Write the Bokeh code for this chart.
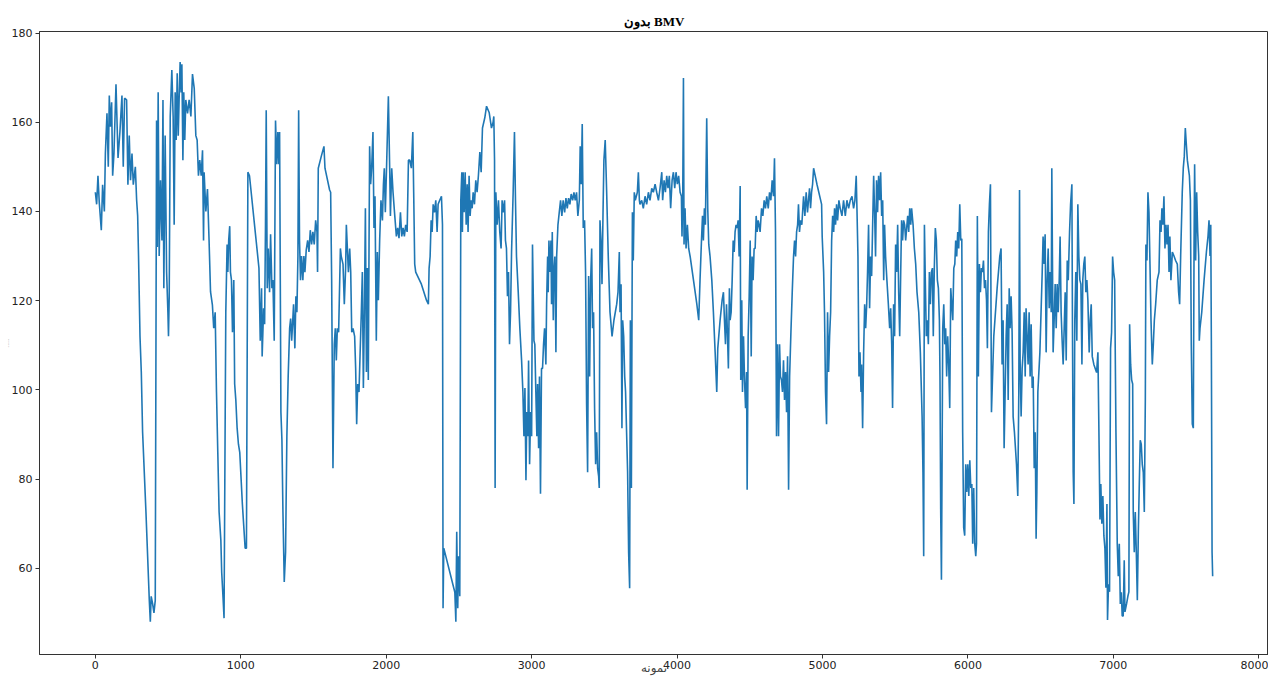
from bokeh.plotting import figure
from bokeh.models import Range1d, FixedTicker
from bokeh.embed import file_html
from bokeh.resources import INLINE

# ---- data ----
sample_idx = [
    0, 9, 18, 27, 41, 50, 62, 69, 80, 89, 96, 103, 112, 119, 128, 142, 156, 169, 183, 192,
    201, 215, 224, 233, 242, 252, 261, 275, 284, 291, 297, 307, 316, 325, 348, 371, 378, 384, 394, 403,
    412, 421, 426, 432, 439, 448, 458, 465, 471, 480, 490, 499, 503, 508, 515, 526, 535, 542, 549, 556,
    563, 570, 576, 583, 590, 595, 602, 608, 615, 622, 634, 645, 657, 668, 680, 691, 700, 709, 718, 728,
    737, 744, 748, 760, 771, 782, 792, 805, 814, 824, 833, 842, 851, 863, 869, 879, 885, 897, 906, 911,
    917, 924, 929, 936, 943, 952, 958, 966, 975, 984, 993, 1011, 1030, 1039,
    1049, 1060, 1125, 1134, 1143, 1147, 1157, 1164, 1170, 1175, 1182, 1189, 1198, 1205, 1214, 1221, 1230, 1239, 1248, 1255,
    1262, 1267, 1276, 1283, 1290, 1299, 1308, 1317, 1326, 1331, 1336, 1343, 1350, 1356, 1363, 1372, 1379, 1386, 1393, 1398,
    1404, 1411, 1418, 1427, 1434, 1441, 1450, 1460, 1469, 1478, 1487, 1496, 1505, 1515, 1524, 1528, 1533, 1554, 1572, 1579,
    1611, 1618, 1625, 1634, 1643, 1650, 1657, 1664, 1673, 1685, 1691, 1703, 1712, 1721, 1726, 1733, 1740, 1749, 1756, 1763,
    1772, 1783, 1790, 1797, 1804, 1813, 1820, 1829, 1836, 1843, 1850, 1857, 1864, 1870, 1877, 1882, 1886, 1893, 1900, 1909,
    1916, 1923, 1932, 1939, 1946, 1955, 1964, 1974, 1981, 1987, 1994, 2003, 2015, 2024, 2029, 2038, 2047, 2059, 2070, 2079,
    2088, 2098, 2107, 2116, 2125, 2134, 2144, 2153, 2162, 2173, 2183, 2189, 2196, 2203, 2242, 2277, 2290, 2295, 2302, 2309,
    2316, 2323, 2332, 2341, 2350, 2357,
    2368, 2380, 2387, 2391, 2396, 2472, 2479, 2485, 2492, 2497, 2506, 2513, 2520, 2524, 2529, 2536, 2543, 2550, 2557, 2563,
    2570, 2577, 2584, 2591, 2598, 2607, 2616, 2625, 2634, 2644, 2653, 2662, 2678, 2690, 2708, 2724, 2735, 2740, 2745, 2749,
    2754, 2763, 2772, 2781, 2790, 2797, 2804, 2814, 2820, 2827, 2834, 2841, 2848, 2855, 2862, 2873, 2882, 2889, 2896, 2908,
    2919, 2931, 2940, 2947, 2954, 2961, 2967, 2974, 2979, 2986, 2993, 3000, 3006, 3016, 3022, 3029, 3036, 3041, 3048, 3054,
    3061, 3068, 3075, 3082, 3089, 3098, 3103, 3110, 3114, 3119, 3126, 3133, 3137, 3142, 3149, 3153, 3160, 3167, 3172, 3181,
    3190, 3199, 3208, 3217, 3227, 3236, 3245, 3254, 3263, 3272, 3282, 3291, 3300, 3309, 3318, 3328, 3334, 3341, 3348, 3355,
    3364, 3371, 3378, 3385, 3392, 3399, 3406, 3413, 3419, 3426, 3433, 3440, 3447, 3454, 3461, 3465, 3470, 3477, 3484, 3491,
    3497, 3506, 3516, 3527, 3539, 3553, 3566, 3585, 3594, 3603, 3608, 3615, 3621, 3626, 3633, 3640, 3646, 3653, 3660, 3667,
    3674, 3679, 3686, 3693, 3699, 3706, 3713, 3720, 3727, 3734, 3741,
    3745, 3757, 3768, 3780, 3791, 3803, 3814, 3826, 3837, 3849, 3860, 3872, 3883, 3895, 3901, 3911, 3920, 3929, 3938, 3947,
    3956, 3966, 3975, 3984, 3993, 4002, 4011, 4021, 4030, 4034, 4039, 4044, 4048, 4055, 4062, 4071, 4080, 4090, 4113, 4136,
    4149, 4158, 4168, 4175, 4181, 4188, 4195, 4204, 4211, 4218, 4227, 4239, 4250, 4262, 4273, 4280, 4296, 4310, 4319, 4326,
    4333, 4340, 4347, 4353, 4360, 4365, 4372, 4379, 4386, 4393, 4399, 4406, 4413, 4420, 4427, 4434, 4438, 4445, 4450, 4457,
    4464, 4471, 4478, 4482, 4489, 4496, 4503, 4510, 4516, 4523, 4530, 4537, 4544, 4551, 4558, 4564, 4571, 4581, 4590, 4599,
    4608, 4617, 4627, 4636, 4645, 4654, 4663, 4670, 4677, 4684, 4691, 4698, 4705, 4711, 4718, 4725, 4732, 4739, 4746, 4753,
    4760, 4767, 4774, 4783, 4792, 4801, 4808, 4815, 4822, 4829, 4835, 4842, 4849, 4858, 4870, 4879, 4888, 4897, 4904, 4911,
    4918, 4925, 4932, 4939, 4962, 4994, 4998, 5008, 5014, 5021, 5028, 5035, 5042, 5049, 5056, 5063, 5070, 5077, 5083, 5090,
    5097, 5104, 5113,
    5122, 5134, 5145, 5157, 5168, 5180, 5191, 5203, 5214, 5223, 5232, 5237, 5244, 5251, 5258, 5265, 5269, 5276, 5283, 5290,
    5297, 5304, 5310, 5317, 5324, 5331, 5338, 5345, 5352, 5359, 5365, 5372, 5379, 5386, 5393, 5400, 5407, 5414, 5421, 5427,
    5434, 5443, 5453, 5462, 5469, 5476, 5482, 5489, 5496, 5503, 5510, 5517, 5524, 5531, 5538, 5544, 5551, 5558, 5565, 5572,
    5579, 5586, 5593, 5600, 5607, 5613, 5623, 5632, 5641, 5650, 5662, 5673, 5685, 5691, 5696, 5701, 5707, 5714, 5721, 5728,
    5735, 5742, 5749, 5756, 5762, 5769, 5776, 5783, 5790, 5797, 5804, 5808, 5813, 5818, 5822, 5827, 5834, 5841, 5847, 5854,
    5861, 5868, 5875, 5882, 5889, 5896, 5903, 5910, 5916, 5923, 5930, 5937, 5944, 5951, 5958, 5964, 5971, 5978, 5985, 5992,
    5999, 6006, 6013, 6020, 6027, 6033, 6040, 6047, 6054, 6059, 6065, 6072, 6079, 6086, 6093, 6100, 6107, 6114, 6121, 6128,
    6134, 6141, 6148, 6155, 6162, 6178, 6201, 6219, 6228, 6235, 6242, 6249, 6256, 6263, 6270, 6277, 6284, 6290, 6297, 6304,
    6311, 6320, 6334, 6343, 6350, 6355, 6359, 6366, 6373, 6380, 6387, 6394, 6400, 6407, 6414, 6421, 6428, 6435, 6442, 6449,
    6456, 6463, 6469, 6474, 6481, 6495,
    6499, 6511, 6517, 6524, 6531, 6538, 6545, 6552, 6559, 6566, 6573, 6577, 6582, 6586, 6593, 6600, 6607, 6614, 6621, 6628,
    6634, 6641, 6648, 6655, 6662, 6669, 6676, 6683, 6690, 6699, 6706, 6715, 6719, 6724, 6729, 6735, 6742, 6749, 6756, 6763,
    6770, 6777, 6784, 6790, 6797, 6804, 6811, 6818, 6825, 6834, 6841, 6848, 6855, 6866, 6885, 6894, 6901, 6908, 6914, 6921,
    6928, 6935, 6942, 6949, 6956, 6960, 6967, 6974, 6981, 6988, 6995, 7002, 7009, 7018, 7027, 7034, 7041, 7048, 7055, 7061,
    7068, 7075, 7080, 7091, 7100, 7107, 7112, 7119, 7126, 7133, 7137, 7144, 7151, 7158, 7165, 7172, 7178, 7185, 7192, 7199,
    7206, 7213, 7220, 7224, 7231, 7238, 7245, 7252, 7259, 7268, 7275, 7282, 7291, 7302, 7314, 7321, 7328, 7334, 7341, 7348,
    7355, 7362, 7369, 7376, 7383, 7389, 7396, 7406, 7417, 7428, 7440, 7449, 7456, 7463, 7474, 7481, 7488, 7495, 7502, 7509,
    7516, 7523, 7530, 7536, 7543, 7550, 7555, 7559, 7566, 7573, 7580, 7587, 7591, 7596, 7608, 7624, 7640, 7651, 7658, 7665,
    7670, 7674, 7679, 7683,
]

values = [
    144.3, 141.6, 148, 142, 135.8, 146, 140, 153, 162, 150, 166, 159, 164.5, 148, 153, 168.5, 152, 157.8, 166, 150,
    165.4, 165, 146, 157, 147, 153, 146, 150, 142.5, 139, 130, 112, 104, 90.5, 72.6, 52.8, 48, 53.7, 52, 50,
    52.8, 160.4, 132, 166.7, 130, 147, 133.5, 165, 122.8, 157, 126.4, 117.4, 112, 121, 161.3, 171.7, 161.3, 137, 166.7, 156,
    171, 157, 165, 173.5, 166.7, 173, 151.5, 166.7, 156, 165, 162, 165, 161.3, 170.8, 167.6, 157, 156, 148, 151.5, 148,
    153.7, 133.5, 148.8, 140, 145, 133.5, 122, 119, 113.8, 117.4, 99.5, 86, 72.6, 66.3, 59, 52.8, 48.8, 117.4, 132.6, 126.4,
    133.5, 136.7, 126.4, 124.6, 112.9, 124.6, 101.3, 97.7, 91.4, 87.8, 86, 74.4, 64.5, 64.5,
    148.8, 148, 127.3, 111, 122.8, 107.5, 118.3, 114.7, 137, 162.7, 122.8, 131.7, 121.9, 134.9, 122.8, 124.6, 111, 160.4, 150.6, 157.8,
    150.6, 157.8, 95, 88.7, 72.6, 56.9, 63.6, 89.6, 103, 108.4, 113.8, 116, 111, 114.7, 119.2, 109.3, 121, 117.4, 130, 162.7,
    133.5, 124.6, 130, 124.6, 130, 126.4, 131.3, 133.5, 130.9, 135.8, 132.6, 135.4, 132.6, 138, 135.4, 126.4, 149.7, 152.4, 154.6, 149.7,
    144.8, 144.3, 124.6, 82.4, 110.2, 113.8, 106.6, 113.8, 112.9, 131.7, 129.9, 128.2, 119.2, 127.3, 137, 131.7, 126.4, 131.7, 126.4, 112.9,
    113.8, 112, 104.8, 92.3, 101.3, 99.5, 107.5, 117.4, 126.4, 100.4, 117.4, 140.7, 104, 127.3, 102.2, 132.6, 154.6, 146.1, 149.7, 157.8,
    136.3, 143.4, 111, 130.9, 120.1, 133.5, 142.5, 138, 146.1, 149.7, 139.8, 150.6, 165.8, 149.7, 139, 149.7, 144.3, 139, 134.4, 136.3,
    134, 139.8, 134.4, 136.3, 134.4, 137, 135.4, 151.5, 151.5, 149.7, 157.8, 144.3, 128.2, 126.4, 123.7, 120.1, 119.2, 127.3, 129.9, 138,
    135.4, 141.6, 139.8, 142.5, 135.4, 141.6,
    142.5, 143.4, 137, 51, 64.5, 54.6, 48, 68.2, 51, 62.7, 53.7, 142.5, 148.8, 135.4, 148.8, 139.8, 148.8, 137, 146.1, 135.4,
    148, 139, 142.5, 140.7, 144.3, 141.6, 147, 144.3, 148, 153.3, 148.8, 158.7, 161, 163.6, 162.2, 158.7, 160, 161.3, 151.5, 78,
    144.3, 137, 142.5, 135.4, 131.7, 142.5, 139.8, 142.5, 133.5, 131.7, 121, 126.4, 110.2, 117.4, 130.9, 144.3, 157.8, 142.5, 129.9, 121.9,
    113.8, 106.6, 99.5, 89.6, 100.4, 79.7, 95, 89.6, 106.6, 83.3, 95, 89.6, 132.6, 111, 110.2, 99.5, 89.6, 101.3, 86.9, 103,
    76.7, 104.8, 104.8, 110.2, 113.8, 105.7, 119.2, 129.9, 121.9, 133.5, 126.4, 133.5, 119.2, 135.4, 115.6, 126.4, 129.9, 108.4, 129.9, 137,
    139.8, 142.5, 139, 142.5, 139.8, 143, 140.7, 143, 141.6, 143.9, 142.5, 144.3, 142.5, 144.3, 139, 142.5, 154.6, 146.1, 159.6, 136.3,
    138, 126.4, 96.8, 81.5, 125.5, 103, 124.6, 131.7, 113.8, 117.4, 95.9, 83.3, 90.5, 82.4, 80.6, 78, 138, 133.5, 123.7, 139.8,
    151.5, 156, 144.3, 129.9, 117.4, 112, 115.6, 119.2, 121.9, 130.9, 117.4, 123.7, 91.4, 115.6, 112, 103, 99.5, 90.5, 81.5, 63.6,
    55.5, 115.6, 78, 139.8, 129, 144.3, 142.5, 143.4, 144.3, 148.8, 142.5,
    141.6, 142.5, 140.7, 143.4, 141.6, 144.3, 142.5, 145.2, 144.3, 146.1, 144.3, 142.5, 145.2, 148.8, 142.5, 147, 144.3, 148, 145.2, 148,
    140.7, 147, 148.8, 145.2, 148.8, 146.1, 148, 144.3, 143.4, 134.4, 142.5, 169.9, 132.6, 140.7, 131.7, 137, 131.7, 129.9, 124.6, 119.2,
    115.6, 124.6, 133.5, 139, 133.5, 140.7, 137, 160.9, 140.7, 132.6, 129.9, 124.6, 117.4, 108.4, 99.5, 109.3, 115.6, 120.1, 121.9, 115.6,
    110.2, 119.2, 112, 104.8, 122.8, 115.6, 117.4, 124.6, 133.5, 130.9, 135.4, 137, 136.3, 138, 129.9, 145.7, 102.2, 120.1, 99.5, 112,
    102.2, 95.9, 104, 77.6, 112, 121, 133.5, 107.5, 129.9, 124.6, 131.7, 131.7, 139, 135.4, 138, 137, 135.4, 140.7, 139, 142.5,
    140.7, 143.4, 140.7, 144.3, 142.5, 147, 143.4, 151.9, 135.4, 89.6, 110.2, 89.6, 110.2, 103, 102.2, 99.5, 106.6, 97.7, 104, 95,
    107.5, 77.6, 103, 112.9, 121.9, 129.9, 133.5, 129.9, 135.4, 137, 141.6, 135.4, 138, 137, 143.4, 139, 144.3, 139.8, 142.5, 145.2,
    140.7, 144.3, 146.1, 149.7, 146.1, 141.6, 134.4, 126.4, 117.4, 99.5, 92.3, 117.4, 104, 112, 117.4, 133.5, 139, 135.4, 140.7, 137,
    141.6, 138, 142.5,
    140.7, 139, 142.5, 139, 142.5, 140.7, 142.5, 143.4, 140.7, 142.5, 148, 140.7, 129.9, 103, 108.4, 99.5, 105.7, 91.4, 108.4, 119.2,
    113.8, 119.2, 126.4, 137, 118.3, 129.9, 125.5, 137, 148, 139, 129.9, 147, 139.8, 148, 142.5, 148.8, 139, 142.5, 124.6, 137,
    129.9, 124.6, 119.2, 113.8, 118.3, 110.2, 95.9, 119.2, 112, 132.6, 126.4, 137, 121.9, 112, 126.4, 138, 133.5, 138, 137, 133.5,
    136.3, 139, 135.4, 140.7, 137, 140.7, 137, 131.7, 128.2, 121.9, 117.4, 108.4, 94, 81.5, 62.7, 137, 124.6, 112, 115.6, 110.2,
    126.4, 119.2, 126.4, 127.3, 112, 127.3, 136.3, 133.5, 124.6, 122.8, 115.6, 103, 72.6, 57.4, 81.5, 113.8, 119.2, 110.2, 113.8, 103,
    112, 105.7, 95.9, 122.8, 119.2, 115.6, 127.3, 128.2, 133.5, 129.9, 135.4, 131.7, 141.6, 133.5, 133.9, 90.5, 69.1, 67.3, 83.3, 77.1,
    83.3, 76.2, 84.2, 78, 78.9, 65.5, 78, 65.5, 62.7, 65.5, 139, 103, 128.2, 121.9, 127.3, 126.4, 129, 122.8, 124.6, 120.1,
    109.3, 135.4, 141.6, 146.1, 95, 112, 122.8, 129.9, 131.7, 105.7, 115.6, 86.9, 99.5, 112, 119.2, 97.7, 122.8, 113.8, 121, 112.9,
    94, 90.5, 83.3, 76.2, 99.5, 144.8, 106.6, 94, 104.8, 108.4, 117.4, 103, 118.3, 112, 105.7, 117.4, 103, 114.7, 100.4, 103,
    82.4, 90.5, 66.6, 77.1, 99.5, 108.4,
    112.9, 126.4, 134.4, 128.2, 134.9, 108.4, 124.6, 131.7, 118.3, 126.4, 117.4, 149.7, 126.4, 108.4, 115.6, 123.7, 113.8, 123.7, 117.4, 124.6,
    134.4, 117.4, 111, 105.7, 113.8, 121.9, 106.6, 129, 124.6, 135.4, 141.6, 146.1, 113.8, 81.5, 74.4, 115.6, 126.4, 111, 141.6, 129.9,
    124.6, 123.7, 105.7, 124.6, 128.2, 129.9, 121.9, 124.6, 120.1, 108.4, 115.6, 119.2, 107.5, 105.7, 103.9, 108.4, 90.5, 70.9, 78.9, 70,
    76.2, 67.3, 64.5, 55.6, 74.4, 48.4, 56.4, 54.7, 109.3, 112.9, 129.9, 126.4, 124.6, 90.5, 65.5, 58.2, 65.5, 52, 54.6, 49.3,
    49.3, 61.8, 50.2, 52, 53.7, 54.7, 114.7, 105.7, 102.2, 101.3, 72.6, 63.6, 72.6, 63.6, 52.8, 68.2, 78, 88.7, 87.8, 83.3,
    81.5, 72.6, 97.7, 132.6, 129, 144.3, 139.8, 128.2, 115.6, 105.7, 110.2, 115.6, 119.2, 124.6, 126.4, 138, 135.4, 140.7, 137, 143.4,
    131.7, 137, 132.6, 137, 126.4, 134.4, 124.6, 130.9, 130, 129, 128.2, 121.9, 119.2, 130, 144.3, 149.7, 152.4, 158.7, 155, 151.5,
    149.7, 148, 142.5, 110.2, 92.3, 91.4, 131.7, 150.6, 129, 144.3, 135.4, 130, 111, 113.8, 117.4, 124.6, 130.9, 134.4, 138, 130,
    137, 111, 63.6, 58.2,
]

x_ticks = [0, 1000, 2000, 3000, 4000, 5000, 6000, 7000, 8000]
y_ticks = [60, 80, 100, 120, 140, 160, 180]

title_text = "بدون BMV"
x_label = "نمونه"
y_label = "....."

p = figure(
    width=1268, height=677,
    output_backend="svg", toolbar_location=None,
    x_range=Range1d(-384, 8067), y_range=Range1d(40.65, 180.35),
    min_border_left=35, min_border_right=0, min_border_top=31, min_border_bottom=0,
)

p.line(sample_idx, values, line_color="#1f77b4", line_width=1.6)

p.title.text = title_text
p.title.align = "center"
p.title.text_font = "Liberation Serif"
p.title.text_font_style = "bold"
p.title.text_font_size = "13px"
p.title.text_color = "#000000"
p.title.standoff = 6

p.xgrid.visible = False
p.ygrid.visible = False
p.outline_line_color = "#333333"
p.outline_line_width = 1
p.background_fill_color = "white"
p.border_fill_color = "white"

for ax in (p.xaxis[0], p.yaxis[0]):
    ax.axis_line_color = "#333333"
    ax.major_tick_line_color = "#333333"
    ax.minor_tick_line_color = None
    ax.major_tick_in = 0
    ax.major_tick_out = 4
    ax.major_label_text_font = "DejaVu Sans"
    ax.major_label_text_font_size = "11px"
    ax.major_label_text_color = "#222222"
    ax.major_label_standoff = 3

p.xaxis.major_label_standoff = 2

p.xaxis.ticker = FixedTicker(ticks=x_ticks)
p.yaxis.ticker = FixedTicker(ticks=y_ticks)

p.xaxis.axis_label = x_label
p.xaxis.axis_label_text_font = "DejaVu Sans"
p.xaxis.axis_label_text_font_style = "normal"
p.xaxis.axis_label_text_font_size = "12px"
p.xaxis.axis_label_standoff = -11

p.yaxis.axis_label = y_label
p.yaxis.axis_label_text_font = "DejaVu Sans"
p.yaxis.axis_label_text_font_style = "normal"
p.yaxis.axis_label_text_font_size = "6px"
p.yaxis.axis_label_text_color = "#aaaaaa"
p.yaxis.axis_label_standoff = 0

open("out.html", "w").write(file_html(p, INLINE))
